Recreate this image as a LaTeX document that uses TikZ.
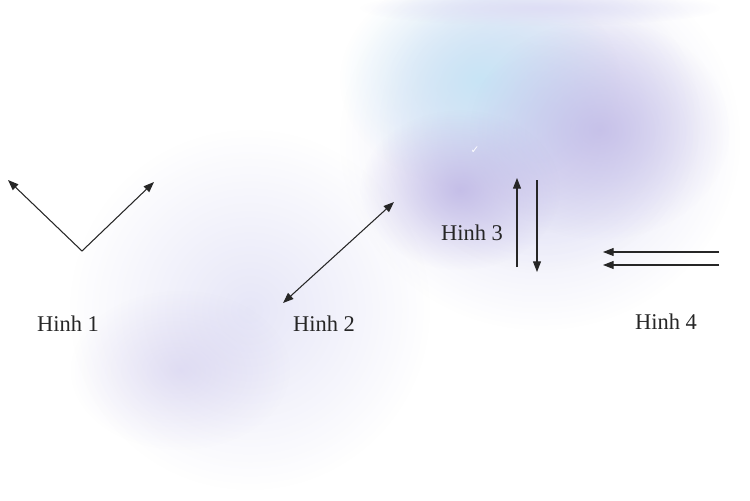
\documentclass[tikz,border=0pt]{standalone}
\usepackage{fontspec}
\setmainfont{Liberation Serif}
\newfontfamily\symfont{DejaVu Sans}
\usetikzlibrary{fadings,arrows.meta}
\tikzfading[name=softblob, inner color=transparent!0, outer color=transparent!100]
\definecolor{lav}{RGB}{188,180,228}
\definecolor{sky}{RGB}{200,228,245}
\definecolor{pale}{RGB}{222,222,245}
\tikzset{
  arr/.style={-{Triangle[length=6pt,width=4.5pt]}, line width=0.6pt, draw=black!85},
  dbl/.style={{Triangle[length=6pt,width=4.5pt]}-{Triangle[length=6pt,width=4.5pt]}, line width=0.6pt, draw=black!85},
  lbl/.style={font=\fontsize{12.8}{14}\selectfont, text=black!85, inner sep=0pt},
  blob/.style={path fading=softblob}
}
\begin{document}
\begin{tikzpicture}[x=0.02cm,y=-0.02cm]
\useasboundingbox (0,0) rectangle (750,500);
\fill[white] (0,0) rectangle (750,500);
% background blobs
\fill[blob, fill=pale] (540,140) ellipse (200 and 190);
\fill[blob, fill=pale] (540,120) ellipse (160 and 150);
\fill[blob, fill=sky] (480,80) ellipse (140 and 110);
\fill[blob, fill=lav, opacity=0.7] (600,130) ellipse (130 and 110);
\fill[blob, fill=lav, opacity=0.8] (460,190) ellipse (100 and 80);
\fill[blob, fill=pale] (540,8) ellipse (180 and 18);
\fill[blob, fill=pale, opacity=0.75] (250,310) ellipse (180 and 180);
\fill[blob, fill=lav, opacity=0.35] (180,370) ellipse (110 and 80);
\node[text=white, font=\symfont\fontsize{6}{6}\selectfont] (chk) at (475,150) {✓};
% Hinh 1
\coordinate (v1) at (82,251);
\coordinate (a1) at (8,180);
\coordinate (b1) at (154,182);
\draw[arr] (v1) -- (a1);
\draw[arr] (v1) -- (b1);
\node[lbl] (h1) at (68,324) {Hinh 1};
% Hinh 2
\coordinate (a2) at (283,303);
\coordinate (b2) at (394,202);
\draw[dbl] (a2) -- (b2);
\node[lbl] (h2) at (324,324) {Hinh 2};
% Hinh 3
\coordinate (u0) at (517,267);
\coordinate (u1) at (517,178);
\coordinate (d0) at (537,180);
\coordinate (d1) at (537,272);
\draw[arr] (u0) -- (u1);
\draw[arr] (d0) -- (d1);
\node[lbl] (h3) at (472,233) {Hinh 3};
% Hinh 4
\coordinate (p0) at (719,252);
\coordinate (p1) at (603,252);
\coordinate (q0) at (719,265);
\coordinate (q1) at (603,265);
\draw[arr] (p0) -- (p1);
\draw[arr] (q0) -- (q1);
\node[lbl] (h4) at (666,322) {Hinh 4};
\end{tikzpicture}
\end{document}
